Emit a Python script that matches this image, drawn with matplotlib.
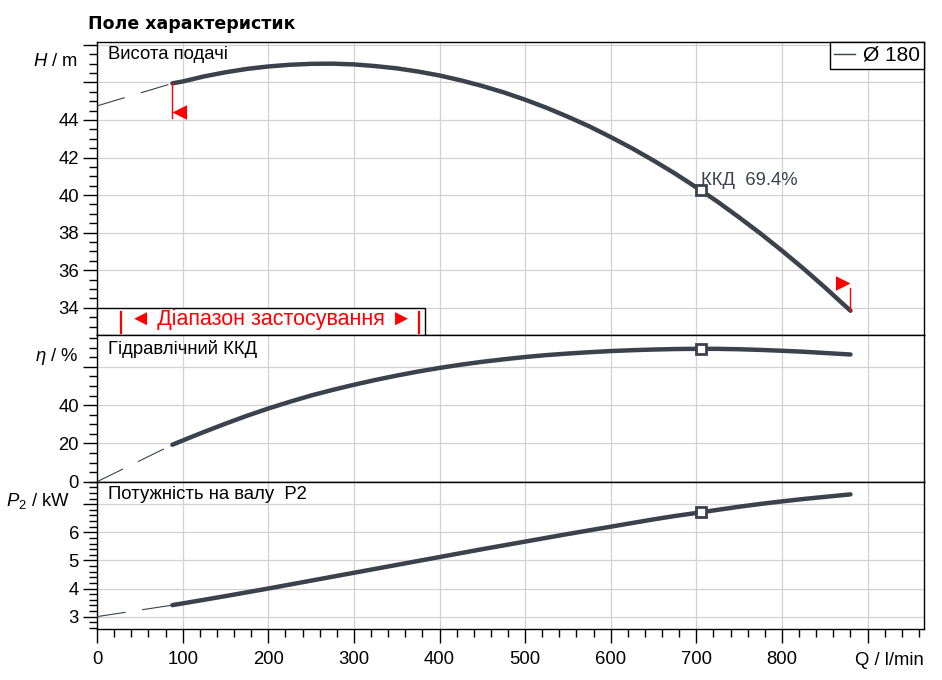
import numpy as np
import matplotlib
matplotlib.use("Agg")
import matplotlib.pyplot as plt
from matplotlib.lines import Line2D
from matplotlib.patches import Rectangle
from matplotlib.ticker import MultipleLocator

plt.rcParams['font.family'] = ['Liberation Sans', 'DejaVu Sans']
plt.rcParams['mathtext.fontset'] = 'custom'
plt.rcParams['mathtext.rm'] = 'Liberation Sans'
plt.rcParams['mathtext.it'] = 'Liberation Sans:italic'

# dashed part below the application range
q_ext = [0, 88]
head_ext = [44.75, 45.95]
eff_ext = [0, 19.3]
power_ext = [3.0, 3.41]

# solid part (application range)
q = [88, 100, 125, 150, 175, 200, 225, 250, 275, 300, 325, 350, 375, 400, 425, 450, 475,
     500, 525, 550, 575, 600, 625, 650, 675, 705, 725, 750, 775, 800, 825, 850, 880]
head = [45.95, 46.05, 46.32, 46.54, 46.72, 46.85, 46.94, 46.99, 47.0, 46.96, 46.87, 46.75,
        46.58, 46.37, 46.11, 45.81, 45.47, 45.08, 44.65, 44.17, 43.66, 43.09, 42.49, 41.84,
        41.15, 40.26, 39.64, 38.81, 37.95, 37.04, 36.09, 35.09, 33.84]
eff = [19.3, 21.5, 26.0, 30.3, 34.4, 38.2, 41.7, 45.0, 47.9, 50.6, 53.1, 55.4, 57.5, 59.4,
       61.1, 62.6, 63.9, 65.1, 66.1, 66.9, 67.6, 68.2, 68.65, 69.0, 69.25, 69.4, 69.35,
       69.15, 68.8, 68.35, 67.85, 67.2, 66.4]
power = [3.41, 3.47, 3.60, 3.73, 3.865, 4.0, 4.14, 4.28, 4.42, 4.56, 4.70, 4.84, 4.98, 5.12,
         5.26, 5.40, 5.535, 5.67, 5.805, 5.94, 6.07, 6.2, 6.33, 6.46, 6.58, 6.71, 6.80, 6.91,
         7.01, 7.1, 7.185, 7.26, 7.35]

duty = 25  # index of the duty point (705 l/min)
duty_eff = "69.4%"

x_ticks = [0, 100, 200, 300, 400, 500, 600, 700, 800, 900]
x_labels = ['0', '100', '200', '300', '400', '500', '600', '700', '800', '']

curve_col = '#3a424c'
grid_col = '#d2d2d2'
fs = 13.3

fig = plt.figure(figsize=(9.42, 6.8), dpi=100)
L, R = 0.103, 0.981
ax_h = fig.add_axes([L, 0.5074, R - L, 0.9387 - 0.5074])
ax_e = fig.add_axes([L, 0.2916, R - L, 0.5074 - 0.2916], sharex=ax_h)
ax_p = fig.add_axes([L, 0.075, R - L, 0.2916 - 0.075], sharex=ax_h)

panels = [
    (ax_h, head_ext, head, (32.55, 48.17), 2, 0.5, [44, 42, 40, 38, 36, 34]),
    (ax_e, eff_ext, eff, (0, 76.6), 20, 5, [0, 20, 40]),
    (ax_p, power_ext, power, (2.56, 7.8), 1, 0.2, [3, 4, 5, 6]),
]

for ax, y_ext, y, ylim, major, minor, shown in panels:
    ax.plot(q_ext, y_ext, color=curve_col, lw=0.8, ls=(0, (26, 15)), zorder=3)
    ax.plot(q, y, color=curve_col, lw=3.2, solid_capstyle='round', solid_joinstyle='round', zorder=4)
    ax.plot(q[duty], y[duty], marker='s', ms=7, mfc='white', mec=curve_col, mew=2, zorder=5)
    ax.set_ylim(*ylim)
    ax.set_xlim(0, 966)
    ax.yaxis.set_major_locator(MultipleLocator(major))
    ax.yaxis.set_minor_locator(MultipleLocator(minor))
    ticks = [t for t in ax.get_yticks() if ylim[0] <= t <= ylim[1]]
    ax.set_yticks(ticks)
    ax.set_yticklabels([('%g' % t) if round(t, 3) in shown else '' for t in ticks])
    ax.grid(True, which='major', color=grid_col, lw=0.9, zorder=0)
    ax.set_axisbelow(True)
    ax.tick_params(axis='y', which='major', direction='out', length=10, width=1, labelsize=fs, pad=3)
    ax.tick_params(axis='y', which='minor', direction='out', length=5.5, width=1)
    for s in ax.spines.values():
        s.set_linewidth(1.0)
        s.set_color('black')

for ax in (ax_h, ax_e):
    ax.tick_params(axis='x', which='both', bottom=False, labelbottom=False)

ax_p.set_xticks(x_ticks)
ax_p.set_xticklabels(x_labels)
ax_p.xaxis.set_minor_locator(MultipleLocator(20))
ax_p.tick_params(axis='x', which='major', direction='out', length=10, width=1, labelsize=fs, pad=5.5)
ax_p.tick_params(axis='x', which='minor', direction='out', length=5.5, width=1)
ax_p.set_xlim(0, 966)

# panel captions and axis names
ax_h.text(0.0133, 0.941, 'Висота подачі', transform=ax_h.transAxes, fontsize=fs, va='baseline')
ax_e.text(0.0133, 0.870, 'Гідравлічний ККД', transform=ax_e.transAxes, fontsize=fs, va='baseline')
ax_p.text(0.0133, 0.880, 'Потужність на валу  P2', transform=ax_p.transAxes, fontsize=fs, va='baseline')

ax_h.text(-0.023, 0.918, '$H$ / m', transform=ax_h.transAxes, fontsize=fs, ha='right', va='baseline')
ax_e.text(-0.023, 0.823, r'$\eta$ / %', transform=ax_e.transAxes, fontsize=fs, ha='right', va='baseline')
ax_p.text(-0.0326, 0.835, r'$P_{\mathit{2}}$ / kW', transform=ax_p.transAxes, fontsize=fs, ha='right', va='baseline')
ax_p.text(1.0, -0.244, 'Q / l/min', transform=ax_p.transAxes, fontsize=fs, ha='right', va='baseline')

fig.text(88 / 942, 1 - 29 / 680, 'Поле характеристик', fontsize=12.5, fontweight='bold',
         family='DejaVu Sans', va='baseline')

# duty point efficiency
ax_h.annotate('ККД  ' + duty_eff, (q[duty], head[duty]), xytext=(0, 4), textcoords='offset points',
              fontsize=fs, color=curve_col, ha='left', va='baseline', zorder=6)

# application range flags
tri_left = [(0, 0), (1, 0.5), (1, -0.5), (0, 0)]
tri_right = [(0, 0), (-1, 0.5), (-1, -0.5), (0, 0)]
ax_h.plot([q[0], q[0]], [head[0], head[0] - 1.85], color='red', lw=1, zorder=5)
ax_h.plot(q[0], head[0] - 1.5, marker=tri_left, ms=21, color='red', mew=0, zorder=5)
ax_h.plot([q[-1], q[-1]], [head[-1], head[-1] + 1.2], color='red', lw=1, zorder=5)
ax_h.plot(q[-1], head[-1] + 1.5, marker=tri_right, ms=21, color='red', mew=0, zorder=5)

# application range box
ax_h.add_patch(Rectangle((0, 0), 0.396, 0.093, transform=ax_h.transAxes, facecolor='white',
                         edgecolor='black', lw=1.0, zorder=6, clip_on=False))
for xb in (0.0286, 0.389):
    ax_h.plot([xb, xb], [0.007, 0.078], transform=ax_h.transAxes, color='red', lw=1.6, zorder=7)
ax_h.text(0.211, 0.054, '◄ Діапазон застосування ►', transform=ax_h.transAxes, color='red',
          fontsize=15.5, ha='center', va='center', zorder=7)

# legend
leg = ax_h.legend([Line2D([], [], color=curve_col, lw=1)], ['Ø 180'], loc='upper right',
                  borderaxespad=0, fancybox=False, edgecolor='black', framealpha=1,
                  handlelength=1.0, handletextpad=0.4, borderpad=0.2, fontsize=15)
leg.get_frame().set_linewidth(1.0)
leg.set_zorder(8)

fig.savefig('out.png', dpi=100)
